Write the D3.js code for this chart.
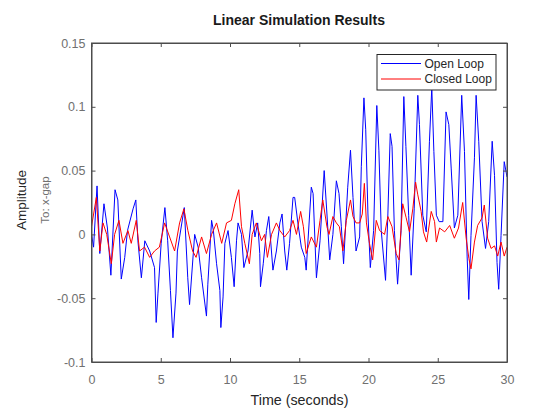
<!DOCTYPE html>
<html>
<head>
<meta charset="utf-8">
<script src="https://cdn.jsdelivr.net/npm/d3@7"></script>
<style>
  body { margin: 0; background: #fff; }
  text { font-family: "Liberation Sans", Arial, Helvetica, sans-serif; }
</style>
</head>
<body>
<div id="chart"></div>
<script>
var openT = [0, 0.15, 0.4, 0.6, 0.9, 1.15, 1.4, 1.7, 1.9, 2.15, 2.4, 2.6, 3.0, 3.2, 3.35, 3.6, 3.85, 4.2, 4.55, 4.67, 4.8,
  5.03, 5.3, 5.5, 5.7, 5.88, 6.1, 6.2, 6.7, 6.95, 7.08, 7.45, 7.7, 7.95, 8.3, 8.4, 8.67, 8.8, 9.03, 9.27, 9.34, 9.5,
  9.63, 9.86, 10.1, 10.3, 10.47, 10.58, 10.83, 11.0, 11.3, 11.6, 11.8, 12.0, 12.15, 12.2, 12.4, 12.63, 12.8, 13.1,
  13.35, 13.6, 13.76, 13.95, 14.1, 14.3, 14.55, 14.67, 14.9, 15.15, 15.4, 15.5, 15.87, 16.0, 16.24, 16.5, 16.8, 17.0,
  17.2, 17.43, 17.68, 17.87, 18.04, 18.2, 18.5, 18.7, 18.88, 19.1, 19.36, 19.48, 19.67, 19.8, 19.96, 20.13, 20.37,
  20.6, 20.75, 20.92, 21.23, 21.4, 21.57, 21.7, 21.87, 22.1, 22.35, 22.55, 22.7, 22.9, 23.08, 23.3, 23.56, 23.68,
  23.92, 24.17, 24.4, 24.57, 24.72, 24.9, 25.1, 25.37, 25.6, 25.8, 25.97, 26.2, 26.45, 26.73, 26.93, 27.12, 27.24,
  27.4, 27.65, 27.77, 27.96, 28.2, 28.45, 28.68, 28.93, 29.1, 29.28, 29.4, 29.57, 29.8, 30];
var openY = [0, -0.01, 0.038, -0.015, 0.024, 0.005, -0.032, 0.035, 0.027, -0.035, -0.018, 0.003, 0.02, 0.027, -0.005,
  -0.034, -0.005, -0.013, -0.026, -0.069, -0.046, -0.007, 0.021, -0.005, -0.044, -0.081, -0.046, -0.013, 0.021, -0.034,
  -0.055, 0, -0.01, -0.034, -0.064, -0.039, 0.011, 0.003, -0.023, -0.044, -0.073, -0.049, -0.007, 0.003, -0.018, -0.041,
  -0.005, 0.009, 0, -0.026, -0.013, 0.019, -0.002, 0.009, -0.015, -0.041, -0.023, 0.003, 0.014, -0.028, -0.013, 0.009,
  0.016, -0.013, -0.028, -0.007, 0.029, 0.029, 0.009, -0.01, -0.018, -0.028, 0.037, 0.032, -0.034, -0.005, 0.05, 0.016,
  -0.02, 0, 0.042, 0.032, 0.006, -0.023, 0.037, 0.066, 0.029, -0.013, -0.002, 0.053, 0.107, 0.082, 0.016, -0.026, 0.003,
  0.101, 0.066, 0.003, -0.036, 0.016, 0.079, 0.069, 0.003, -0.039, 0.003, 0.108, 0.069, 0.015, -0.032, 0.02, 0.109,
  0.086, 0.015, 0.002, 0.073, 0.115, 0.065, 0.015, 0.01, 0.01, 0.096, 0.086, 0.052, 0.005, 0.015, 0.109, 0.065, -0.017,
  -0.051, -0.001, 0.06, 0.109, 0.073, 0.01, -0.011, 0.01, 0.073, 0.046, -0.022, -0.043, -0.001, 0.057, 0.045];

var closedT = [0, 0.35, 0.6, 0.83, 1.1, 1.43, 1.67, 1.98, 2.27, 2.63, 2.87, 3.23, 3.47, 3.83, 4.2, 4.55, 4.9, 5.28, 5.64,
  6.0, 6.36, 6.67, 6.96, 7.3, 7.55, 7.95, 8.3, 8.67, 9.03, 9.4, 9.75, 10.1, 10.35, 10.63, 10.83, 11.07, 11.4, 11.6, 11.9,
  12.27, 12.5, 12.7, 13.0, 13.35, 13.6, 13.95, 14.3, 14.55, 14.8, 15.1, 15.3, 15.5, 15.87, 16.24, 16.5, 16.7, 17.0, 17.15,
  17.43, 17.68, 17.9, 18.15, 18.4, 18.7, 18.88, 19.1, 19.36, 19.55, 19.7, 19.85, 20.07, 20.3, 20.56, 20.8, 21.16, 21.4,
  21.7, 22.0, 22.2, 22.47, 22.72, 22.96, 23.2, 23.4, 23.56, 23.8, 23.97, 24.2, 24.53, 24.77, 24.9, 25.13, 25.5, 25.86,
  26.2, 26.5, 26.8, 27.05, 27.25, 27.4, 27.65, 27.88, 28.2, 28.36, 28.6, 28.85, 29.1, 29.33, 29.57, 29.8, 30];
var closedY = [0.006, 0.029, -0.013, 0.009, 0, -0.023, 0, 0.011, -0.007, 0.003, -0.007, 0.011, -0.013, -0.01, -0.018,
  -0.013, -0.01, 0.009, -0.002, -0.013, 0.009, 0.02, 0.003, -0.013, -0.018, -0.002, -0.015, 0, 0.009, -0.007, 0.009,
  0.011, 0.024, 0.035, 0.006, -0.007, -0.023, 0, 0.009, -0.005, 0, -0.018, 0, 0.009, 0.003, -0.002, 0.003, 0.011, 0,
  0.018, 0.006, -0.015, -0.002, -0.01, 0.011, 0.027, 0.006, 0, 0.014, 0.009, 0.006, -0.013, 0.011, 0.027, 0.014, 0.009,
  0.009, 0.016, 0.04, 0.009, -0.007, -0.02, 0.011, 0.003, 0, 0.014, 0.006, -0.015, -0.02, 0.024, 0.013, 0.002, 0.02,
  0.041, 0.031, 0.018, 0.002, -0.006, 0.018, 0.01, -0.006, 0.005, 0.002, 0.007, -0.003, 0.005, 0.025, -0.003, -0.019,
  -0.027, -0.006, 0.007, 0.013, 0.023, -0.003, -0.011, -0.009, -0.017, -0.006, -0.017, -0.01];

var xTicks = [0, 5, 10, 15, 20, 25, 30];
var yTicks = [-0.1, -0.05, 0, 0.05, 0.1, 0.15];
var seriesNames = ["Open Loop", "Closed Loop"];

var width = 560;
var height = 420;
var m = { left: 91.5, right: 507, top: 43, bottom: 362 };
var axisColor = "#4d4d4d";
var tickColor = "#707070";

var svg = d3.select("#chart")
  .append("svg")
  .attr("width", width)
  .attr("height", height);

var x = d3.scaleLinear().domain([0, 30]).range([m.left, m.right]);
var y = d3.scaleLinear().domain([-0.1, 0.15]).range([m.bottom, m.top]);

var fmt = function(d) { return d === 0 ? "0" : String(+d.toFixed(2)); };

svg.append("clipPath").attr("id", "clip")
  .append("rect")
  .attr("x", m.left).attr("y", m.top)
  .attr("width", m.right - m.left).attr("height", m.bottom - m.top);

var series = [
  { name: seriesNames[0], color: "#0000ff", pts: openT.map(function(t, i) { return [t, openY[i]]; }) },
  { name: seriesNames[1], color: "#ff0000", pts: closedT.map(function(t, i) { return [t, closedY[i]]; }) }
];

var line = d3.line()
  .x(function(d) { return x(d[0]); })
  .y(function(d) { return y(d[1]); });

svg.append("g")
  .attr("clip-path", "url(#clip)")
  .selectAll("path")
  .data(series)
  .enter()
  .append("path")
  .attr("d", function(d) { return line(d.pts); })
  .attr("fill", "none")
  .attr("stroke", function(d) { return d.color; })
  .attr("stroke-width", 1);

// axes with inward ticks
svg.append("g")
  .attr("transform", "translate(0," + m.bottom + ")")
  .call(d3.axisBottom(x).tickValues(xTicks).tickSizeInner(-4).tickSizeOuter(0).tickPadding(13).tickFormat(fmt));
svg.append("g")
  .attr("transform", "translate(" + m.left + ",0)")
  .call(d3.axisLeft(y).tickValues(yTicks).tickSizeInner(-4).tickSizeOuter(0).tickPadding(6).tickFormat(fmt));
svg.append("g")
  .attr("transform", "translate(0," + m.top + ")")
  .call(d3.axisTop(x).tickValues(xTicks).tickSizeInner(-4).tickSizeOuter(0).tickFormat(""));
svg.append("g")
  .attr("transform", "translate(" + m.right + ",0)")
  .call(d3.axisRight(y).tickValues(yTicks).tickSizeInner(-4).tickSizeOuter(0).tickFormat(""));

svg.selectAll(".domain").attr("stroke", axisColor);
svg.selectAll(".tick line").attr("stroke", axisColor);
svg.selectAll(".tick text")
  .attr("fill", tickColor)
  .style("font-size", "12.5px")
  .style("font-family", "'Liberation Sans', Arial, sans-serif");

svg.append("rect")
  .attr("x", m.left).attr("y", m.top)
  .attr("width", m.right - m.left).attr("height", m.bottom - m.top)
  .attr("fill", "none")
  .attr("stroke", axisColor)
  .attr("stroke-width", 1);

svg.append("text")
  .attr("x", 299).attr("y", 25)
  .attr("text-anchor", "middle")
  .attr("fill", "#1a1a1a")
  .style("font-size", "14px")
  .style("font-weight", "bold")
  .text("Linear Simulation Results");

svg.append("text")
  .attr("x", 299.5).attr("y", 405)
  .attr("text-anchor", "middle")
  .attr("fill", "#262626")
  .style("font-size", "14.3px")
  .text("Time (seconds)");

svg.append("text")
  .attr("transform", "translate(26,200) rotate(-90)")
  .attr("text-anchor", "middle")
  .attr("fill", "#262626")
  .style("font-size", "13.5px")
  .text("Amplitude");

svg.append("text")
  .attr("transform", "translate(49,200) rotate(-90)")
  .attr("text-anchor", "middle")
  .attr("fill", tickColor)
  .style("font-size", "11.5px")
  .text("To: x-gap");

// legend
var lg = svg.append("g").attr("transform", "translate(377,54.5)");
lg.append("rect")
  .attr("width", 119).attr("height", 35.5)
  .attr("fill", "#fff")
  .attr("stroke", "#262626")
  .attr("stroke-width", 1);
var items = lg.selectAll("g.item")
  .data(series)
  .enter()
  .append("g")
  .attr("class", "item")
  .attr("transform", function(d, i) { return "translate(0," + (9 + i * 15.5) + ")"; });
items.append("line")
  .attr("x1", 4).attr("x2", 44)
  .attr("stroke", function(d) { return d.color; })
  .attr("stroke-width", 1);
items.append("text")
  .attr("x", 47.5).attr("dy", "0.35em")
  .attr("fill", "#262626")
  .style("font-size", "12px")
  .text(function(d) { return d.name; });
</script>
</body>
</html>
